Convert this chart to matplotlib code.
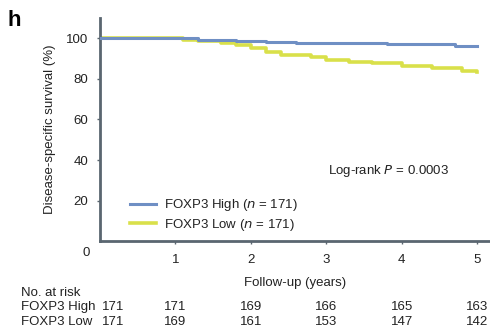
import matplotlib
matplotlib.use("Agg")
import matplotlib.pyplot as plt

plt.rcParams['font.family'] = ['Liberation Sans', 'DejaVu Sans']

# Data
high_t = [0, 1.3, 1.8, 2.2, 2.6, 3.8, 4.7, 5.0]
high_s = [100, 99.4, 98.8, 98.2, 97.6, 97.0, 96.4, 96.4]
low_t = [0, 1.1, 1.3, 1.6, 1.8, 2.0, 2.2, 2.4, 2.8, 3.0, 3.3, 3.6, 4.0, 4.4, 4.8, 5.0]
low_s = [100, 99.4, 98.8, 97.6, 96.5, 95.3, 93.5, 91.8, 90.6, 89.4, 88.2, 87.6, 86.4, 85.3, 84.1, 83.5]
xticks = [1, 2, 3, 4, 5]
yticks = [20, 40, 60, 80, 100]
risk_high = [171, 171, 169, 166, 165, 163]
risk_low = [171, 169, 161, 153, 147, 142]
risk_times = [0, 1, 2, 3, 4, 5]

blue = '#6f8fc4'
yellow = '#d9e04a'
txt = '#222222'
fs = 9.5

fig = plt.figure(figsize=(4.9, 3.34), dpi=100)
ax = fig.add_axes([0.204, 0.278, 0.796, 0.668])
ax.step(low_t, low_s, where='post', color=yellow, lw=2.6, label='FOXP3 Low ($n$ = 171)', zorder=2)
ax.step(high_t, high_s, where='post', color=blue, lw=2.2, label='FOXP3 High ($n$ = 171)', zorder=3)
ax.set_xlim(0, 5.17)
ax.set_ylim(0, 110)
for s in ['top', 'right']:
    ax.spines[s].set_visible(False)
for s in ['left', 'bottom']:
    ax.spines[s].set_color('#5a6670')
    ax.spines[s].set_linewidth(2)
ax.set_xticks(xticks)
ax.set_yticks(yticks)
ax.tick_params(axis='both', length=2.5, width=1, color='#5a6670', labelsize=fs, labelcolor=txt)
ax.tick_params(axis='x', pad=7)
ax.tick_params(axis='y', pad=6)
ax.text(-0.18, -3, '0', transform=ax.transData, ha='center', va='top', fontsize=fs, color=txt)
ax.set_ylabel('Disease-specific survival (%)', fontsize=fs, color=txt, labelpad=7)
ax.set_xlabel('Follow-up (years)', fontsize=fs, color=txt, labelpad=8)
ax.text(3.83, 34.5, 'Log-rank $P$ = 0.0003', fontsize=fs, color=txt, ha='center', va='center')
handles, labels = ax.get_legend_handles_labels()
leg = ax.legend(handles[::-1], labels[::-1], loc='lower left', bbox_to_anchor=(0.077, 0.036),
                frameon=False, fontsize=fs, handlelength=2.0, handletextpad=0.55, labelspacing=0.3,
                borderpad=0, borderaxespad=0)
for t in leg.get_texts():
    t.set_color(txt)

fig.text(0.016, 0.97, 'h', fontsize=16, fontweight='bold', ha='left', va='top')

# at risk table
def fx(x):
    return ax.transData.transform((x, 0))[0] / fig.bbox.width

fig.text(21/490, 1 - 293/334, 'No. at risk', fontsize=fs, color=txt, va='center', ha='left')
fig.text(21/490, 1 - 307/334, 'FOXP3 High', fontsize=fs, color=txt, va='center', ha='left')
fig.text(21/490, 1 - 322/334, 'FOXP3 Low', fontsize=fs, color=txt, va='center', ha='left')
fig.text(124/490, 1 - 307/334, str(risk_high[0]), fontsize=fs, color=txt, va='center', ha='right')
fig.text(124/490, 1 - 322/334, str(risk_low[0]), fontsize=fs, color=txt, va='center', ha='right')
for t, h, l in zip(risk_times[1:], risk_high[1:], risk_low[1:]):
    fig.text(fx(t), 1 - 307/334, str(h), fontsize=fs, color=txt, va='center', ha='center')
    fig.text(fx(t), 1 - 322/334, str(l), fontsize=fs, color=txt, va='center', ha='center')

fig.savefig('out.png', dpi=100)
